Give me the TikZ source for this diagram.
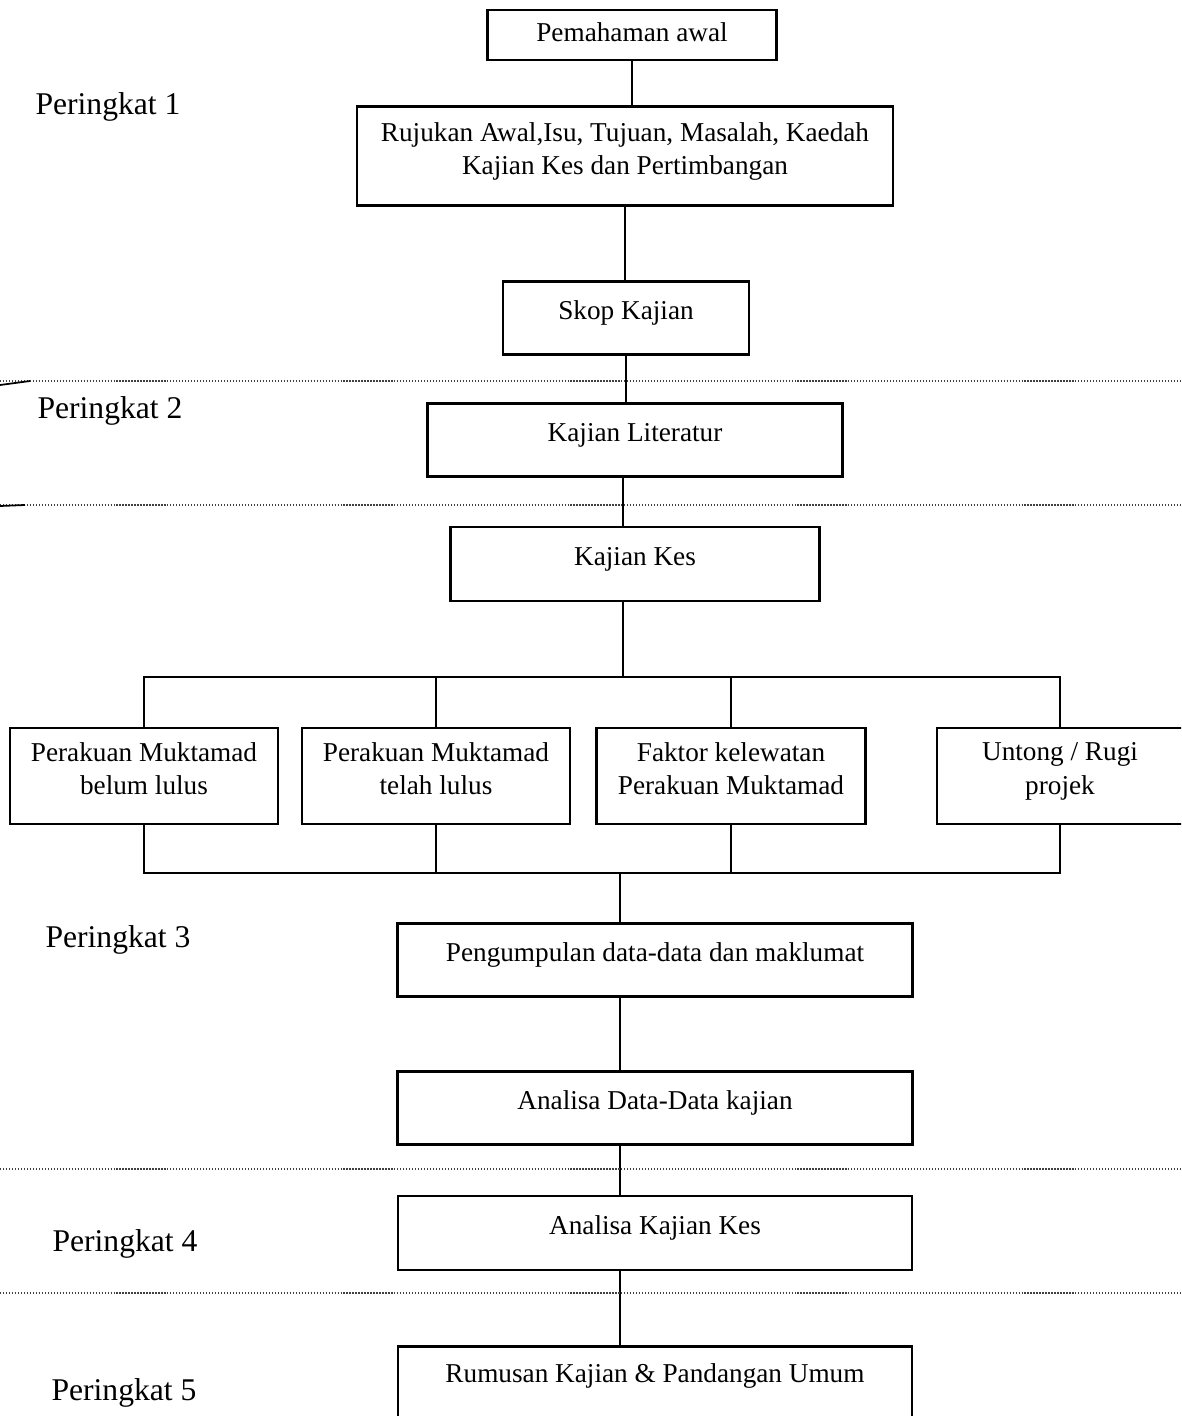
\documentclass[tikz,border=0pt]{standalone}
\usepackage{fontspec}
\setmainfont{Liberation Serif}
\begin{document}
\begin{tikzpicture}[x=0.02cm,y=-0.02cm,
  kotak/.style={draw,line width=1.5pt,align=center,inner sep=2pt,text depth=0.3cm,font=\fontsize{15.5}{19}\selectfont},
  tahap/.style={font=\fontsize{18}{22}\selectfont},
  garis/.style={line width=1pt},
  sempadan/.style={line width=0.7pt,black!75,dash pattern=on 0.7pt off 1pt}]
\useasboundingbox (0,0) rectangle (1181,1416);
\clip (0,0) rectangle (1181,1416);
\node[kotak,minimum width=5.78cm,minimum height=1.0cm,text depth=0.12cm] (awal) at (632,35) {Pemahaman awal};
\node[kotak,minimum width=10.72cm,minimum height=1.98cm] (rujukan) at (625,156) {Rujukan Awal,Isu, Tujuan, Masalah, Kaedah\\Kajian Kes dan Pertimbangan};
\node[kotak,minimum width=4.92cm,minimum height=1.46cm] (skop) at (626,318) {Skop Kajian};
\node[kotak,minimum width=8.3cm,minimum height=1.46cm] (literatur) at (635,440) {Kajian Literatur};
\node[kotak,minimum width=7.38cm,minimum height=1.48cm] (kes) at (635,564) {Kajian Kes};
\node[kotak,minimum width=5.36cm,minimum height=1.92cm] (pm1) at (144,776) {Perakuan Muktamad\\belum lulus};
\node[kotak,minimum width=5.36cm,minimum height=1.92cm] (pm2) at (436,776) {Perakuan Muktamad\\telah lulus};
\node[kotak,minimum width=5.38cm,minimum height=1.92cm] (faktor) at (731,776) {Faktor kelewatan\\Perakuan Muktamad};
\node[kotak,minimum width=4.92cm,minimum height=1.92cm] (untung) at (1060,776) {Untong / Rugi\\projek};
\node[kotak,minimum width=10.3cm,minimum height=1.46cm] (kumpul) at (655,960) {Pengumpulan data-data dan maklumat};
\node[kotak,minimum width=10.3cm,minimum height=1.46cm] (analisa) at (655,1108) {Analisa Data-Data kajian};
\node[kotak,minimum width=10.28cm,minimum height=1.48cm] (anakes) at (655,1233) {Analisa Kajian Kes};
\node[kotak,minimum width=10.28cm,minimum height=1.6cm,text depth=0.55cm,anchor=north] (rumusan) at (655,1345) {Rumusan Kajian \& Pandangan Umum};
\node[tahap] (p1) at (108,107) {Peringkat 1};
\node[tahap] (p2) at (110,411) {Peringkat 2};
\node[tahap] (p3) at (118,940) {Peringkat 3};
\node[tahap] (p4) at (125,1244) {Peringkat 4};
\node[tahap] (p5) at (124,1393) {Peringkat 5};
\coordinate (atas) at (623,677);
\coordinate (bawah) at (620,873);
\draw[garis] (awal.south) -- (awal.south |- rujukan.north);
\draw[garis] (rujukan.south) -- (rujukan.south |- skop.north);
\draw[garis] (skop.south) -- (skop.south |- literatur.north);
\draw[garis] (literatur.south -| atas) -- (kes.north -| atas);
\draw[garis] (kes.south -| atas) -- (atas);
\draw[garis] (pm1.north) |- (atas) -| (untung.north);
\draw[garis] (pm2.north) -- (pm2.north |- atas);
\draw[garis] (faktor.north) -- (faktor.north |- atas);
\draw[garis] (pm1.south) |- (bawah) -| (untung.south);
\draw[garis] (pm2.south) -- (pm2.south |- bawah);
\draw[garis] (faktor.south) -- (faktor.south |- bawah);
\draw[garis] (bawah) -- (kumpul.north -| bawah);
\draw[garis] (kumpul.south -| bawah) -- (analisa.north -| bawah);
\draw[garis] (analisa.south -| bawah) -- (anakes.north -| bawah);
\draw[garis] (anakes.south -| bawah) -- (rumusan.north -| bawah);
\draw[sempadan] (0,381) -- (1181,381);
\draw[sempadan] (0,505) -- (1181,505);
\draw[sempadan] (0,1169) -- (1181,1169);
\draw[sempadan] (0,1293) -- (1181,1293);
\draw[line width=1pt] (0,385) -- (30,381);
\draw[line width=1pt] (0,506) -- (25,505);
\end{tikzpicture}
\end{document}
